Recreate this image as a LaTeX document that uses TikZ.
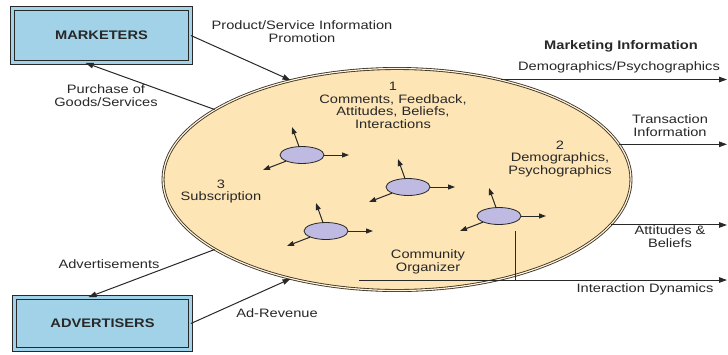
\documentclass[tikz,border=0pt]{standalone}
\usepackage{fontspec}
\setmainfont{Liberation Sans}
\usepackage{graphicx}
\usetikzlibrary{shapes.geometric,arrows.meta,calc}

\definecolor{boxblue}{RGB}{162,210,232}
\definecolor{peach}{RGB}{253,229,181}
\definecolor{lav}{RGB}{190,186,226}
\definecolor{ink}{RGB}{40,40,40}
\definecolor{rimc}{RGB}{60,50,35}

% widened multi-line label text
\newcommand\wide[1]{\scalebox{1.2}[1]{\begin{tabular}{@{}c@{}}#1\end{tabular}}}

\begin{document}
\begin{tikzpicture}[x=1pt,y=-1pt,
  lbl/.style={inner sep=0pt, text=ink, font=\fontsize{12.2}{12.2}\selectfont},
  hdr/.style={inner sep=0pt, text=ink, font=\fontsize{12.4}{12.4}\selectfont\bfseries},
  party/.style={rectangle, draw=ink, line width=0.8pt, double=boxblue, double distance=3pt,
    fill=boxblue, inner sep=0pt, text=ink, font=\fontsize{12.4}{12.4}\selectfont\bfseries},
  community/.style={ellipse, draw=rimc, line width=0.85pt, double=peach!50!white,
    double distance=1.2pt, fill=peach, inner sep=0pt,
    minimum width=468pt, minimum height=222pt},
  cell/.style={ellipse, draw=ink, line width=0.8pt, fill=lav, inner sep=0pt,
    minimum width=44pt, minimum height=17pt},
  arr/.style={draw=ink, line width=1pt, -{Triangle[length=8pt,width=5.5pt]}},
  tip/.style={draw=ink, line width=1pt, -{Triangle[length=7pt,width=5pt]}},
  plain/.style={draw=ink, line width=1pt}
]
\useasboundingbox[fill=white] (0,0) rectangle (728,354);

% the online community
\node[community] (ell) at (397,179.5) {};

% members and their interactions
\foreach \n/\px/\py in {e1/302/155, e2/408/187, e3/326/231, e4/499/216}{
  \node[cell] (\n) at (\px,\py) {};
  \path (\n.center) ++(-10,-28) coordinate (\n-up);
  \path (\n.center) ++(47,0) coordinate (\n-rt);
  \path (\n.center) ++(-39,15) coordinate (\n-dl);
  \draw[tip] (\n) -- (\n-up);
  \draw[tip] (\n) -- (\n-rt);
  \draw[tip] (\n) -- (\n-dl);
}

% outside parties
\node[party, minimum width=178pt, minimum height=54pt] (mk) at (101.5,35.5) {\scalebox{1.18}[1]{MARKETERS}};
\node[party, minimum width=176pt, minimum height=52pt] (ad) at (102.5,323.5) {\scalebox{1.18}[1]{ADVERTISERS}};

% flows between parties and community
\draw[arr] (mk.east) -- (ell.137);
\draw[arr] (ell.159) -- ([xshift=-16pt]mk.south);
\draw[arr] (ell.201) -- ([xshift=-14pt]ad.north);
\draw[arr] (ad.east) -- (ell.223);

% marketing information outputs
\coordinate (outR) at (727,0);
\draw[arr] (ell.44) -- (ell.44 -| outR);
\draw[arr] (ell.9) -- (ell.9 -| outR);
\draw[arr] (ell.348) -- (ell.348 -| outR);

% community organizer tap
\coordinate (tapL) at (359,280);
\coordinate (tapT) at (515,231);
\draw[arr] (tapL) -- (tapL -| outR);
\draw[plain] (tapT) -- (tapT |- tapL);

% labels
\node[lbl] (prod) at (302,33.5) {\wide{Product/Service Information\\Promotion}};
\node[lbl] (purch) at (106,97.5) {\wide{Purchase of\\Goods/Services}};
\node[lbl] (advt) at (109,266) {\wide{Advertisements}};
\node[lbl] (adrev) at (277,315) {\wide{Ad-Revenue}};
\node[lbl] (c1) at (393,107) {\wide{1\\Comments, Feedback,\\Attitudes, Beliefs,\\Interactions}};
\node[lbl] (c2) at (560,159.5) {\wide{2\\Demographics,\\Psychographics}};
\node[lbl] (c3) at (221,192) {\wide{3\\Subscription}};
\node[lbl] (org) at (428,262.5) {\wide{Community\\Organizer}};
\node[hdr] (mkinfo) at (621,46) {\scalebox{1.18}[1]{Marketing Information}};
\node[lbl] (demo) at (619,68) {\wide{Demographics/Psychographics}};
\node[lbl] (trans) at (670,127.5) {\wide{Transaction\\Information}};
\node[lbl] (attit) at (670,238.5) {\wide{Attitudes \&\\Beliefs}};
\node[lbl] (inter) at (645,289.5) {\wide{Interaction Dynamics}};
\end{tikzpicture}
\end{document}
